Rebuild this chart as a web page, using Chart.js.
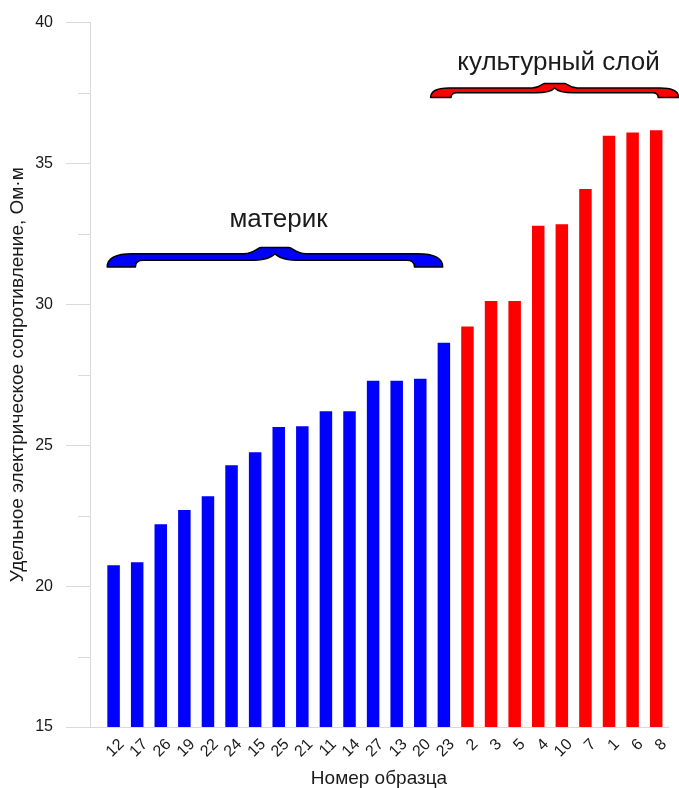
<!DOCTYPE html>
<html>
<head>
<meta charset="utf-8">
<script src="https://cdn.jsdelivr.net/npm/chart.js@4/dist/chart.umd.min.js"></script>
<style>
  html, body { margin: 0; padding: 0; background: #ffffff; }
  #wrap { width: 679px; height: 788px; position: relative; }
</style>
</head>
<body>
<div id="wrap"><canvas id="c" width="679" height="788"></canvas></div>
<script>
// ---- data ----
const categories = ['12','17','26','19','22','24','15','25','21','11','14','27','13','20','23','2','3','5','4','10','7','1','6','8'];
const resistivity = [20.74, 20.85, 22.20, 22.70, 23.19, 24.29, 24.75, 25.65, 25.67, 26.21, 26.21, 27.29, 27.29, 27.36, 28.64,
                     29.21, 30.12, 30.12, 32.79, 32.84, 34.09, 35.98, 36.10, 36.18];
const groupOfSample = [0,0,0,0,0,0,0,0,0,0,0,0,0,0,0, 1,1,1,1,1,1,1,1,1];
const groupNames = ['материк', 'культурный слой'];
const yMajorTicks = [15, 20, 25, 30, 35, 40];
const yMinorTicks = [17.5, 22.5, 27.5, 32.5, 37.5];
const yTitle = 'Удельное электрическое сопротивление, Ом·м';
const xTitle = 'Номер образца';

// ---- styles / annotation placement (data units) ----
const groupColors = ['#0000ff', '#ff0000'];
const axisColor = '#d9d9d9';
const textColor = '#1a1a1a';
const FONT = "'Liberation Sans', Arial, sans-serif";
const braceFrom   = [-0.27, 13.44];
const braceTo     = [13.95, 23.95];
const braceTop    = [32.02, 37.84];
const braceBottom = [31.33, 37.34];
const labelAtX    = [6.99, 18.86];
const labelAtY    = [33.0, 38.58];

function drawBrace(ctx, x0, x1, yT, yB, color) {
  const h = yB - yT;
  const c = (x0 + x1) / 2;
  const armTop = yT + 0.32 * h;
  const armBot = yT + 0.66 * h;
  const e1 = 1.3 * h, e2 = 1.45 * h, e3 = 0.4 * h;
  const s1 = 0.72 * h, s2 = 1.6 * h, s3 = 1.35 * h;
  ctx.beginPath();
  ctx.moveTo(x0, yB);
  ctx.quadraticCurveTo(x0, armTop, x0 + e1, armTop);
  ctx.lineTo(c - s2, armTop);
  ctx.bezierCurveTo(c - s1 - 0.3 * h, armTop, c - s1 - 0.2 * h, yT, c - s1, yT);
  ctx.lineTo(c + s1, yT);
  ctx.bezierCurveTo(c + s1 + 0.2 * h, yT, c + s1 + 0.3 * h, armTop, c + s2, armTop);
  ctx.lineTo(x1 - e1, armTop);
  ctx.quadraticCurveTo(x1, armTop, x1, yB);
  ctx.lineTo(x1 - e2, yB);
  ctx.quadraticCurveTo(x1 - e2, armBot, x1 - e2 - e3, armBot);
  ctx.lineTo(c + s3, armBot);
  ctx.quadraticCurveTo(c + 0.3 * h, armBot, c, armTop);
  ctx.quadraticCurveTo(c - 0.3 * h, armBot, c - s3, armBot);
  ctx.lineTo(x0 + e2 + e3, armBot);
  ctx.quadraticCurveTo(x0 + e2, armBot, x0 + e2, yB);
  ctx.closePath();
  ctx.fillStyle = color;
  ctx.fill();
  ctx.lineWidth = 1.5;
  ctx.strokeStyle = '#000000';
  ctx.lineJoin = 'round';
  ctx.stroke();
}

const extrasPlugin = {
  id: 'extras',
  afterDraw(chart) {
    const { ctx, scales: { x, y } } = chart;
    ctx.save();
    // minor tick marks on the y axis
    ctx.strokeStyle = axisColor;
    ctx.lineWidth = 1;
    yMinorTicks.forEach(v => {
      const py = Math.round(y.getPixelForValue(v)) + 0.5;
      ctx.beginPath();
      ctx.moveTo(y.right - 12, py);
      ctx.lineTo(y.right, py);
      ctx.stroke();
    });
    // group braces and labels
    groupNames.forEach((name, g) => {
      drawBrace(ctx,
        x.getPixelForValue(braceFrom[g]), x.getPixelForValue(braceTo[g]),
        y.getPixelForValue(braceTop[g]), y.getPixelForValue(braceBottom[g]),
        groupColors[g]);
      ctx.fillStyle = textColor;
      ctx.font = '26px ' + FONT;
      ctx.textAlign = 'center';
      ctx.textBaseline = 'middle';
      ctx.fillText(name, x.getPixelForValue(labelAtX[g]), y.getPixelForValue(labelAtY[g]));
    });
    ctx.restore();
  }
};

new Chart(document.getElementById('c'), {
  type: 'bar',
  data: {
    datasets: [{
      data: resistivity.map((v, i) => ({ x: i, y: v })),
      backgroundColor: groupOfSample.map(g => groupColors[g]),
      borderWidth: 0,
      barPercentage: 0.53,
      categoryPercentage: 1.0
    }]
  },
  options: {
    responsive: false,
    animation: false,
    devicePixelRatio: 1,
    layout: { padding: { top: 22, right: 11, left: 0, bottom: 0 } },
    plugins: { legend: { display: false }, tooltip: { enabled: false } },
    scales: {
      x: {
        type: 'linear',
        offset: false,
        min: -1,
        max: 23.5,
        afterBuildTicks: (scale) => { scale.ticks = categories.map((_, i) => ({ value: i })); },
        afterFit: (scale) => { scale.height = 61; },
        grid: { display: true, drawOnChartArea: false, drawTicks: false, color: 'rgba(0,0,0,0)' },
        border: { display: true, color: axisColor, width: 1 },
        ticks: {
          autoSkip: false,
          minRotation: 45,
          maxRotation: 45,
          padding: 8,
          labelOffset: 8,
          color: textColor,
          font: { family: FONT, size: 16 },
          callback: (value) => categories[value]
        },
        title: {
          display: true,
          text: xTitle,
          color: textColor,
          font: { family: FONT, size: 19, lineHeight: 1 },
          padding: { top: 0, bottom: 0 }
        }
      },
      y: {
        min: 15,
        max: 40,
        afterBuildTicks: (scale) => { scale.ticks = yMajorTicks.map(v => ({ value: v })); },
        afterFit: (scale) => { scale.width = 90; },
        grid: { drawOnChartArea: false, drawTicks: true, tickLength: 24, color: axisColor },
        border: { display: true, color: axisColor, width: 1 },
        ticks: {
          padding: 13,
          color: textColor,
          font: { family: FONT, size: 16 }
        },
        title: {
          display: true,
          text: yTitle,
          color: textColor,
          font: { family: FONT, size: 19 },
          padding: { top: 6, bottom: 0 }
        }
      }
    }
  },
  plugins: [extrasPlugin]
});
</script>
</body>
</html>
